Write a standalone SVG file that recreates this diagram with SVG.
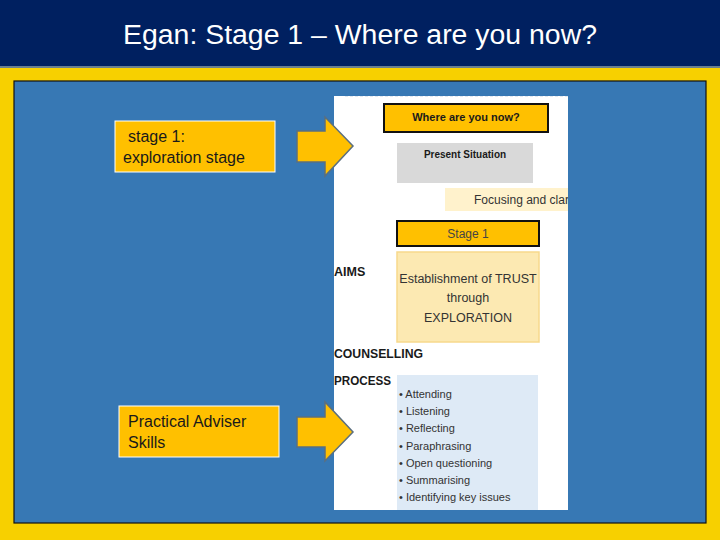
<svg xmlns="http://www.w3.org/2000/svg" width="720" height="540" viewBox="0 0 720 540">
  <defs>
    <clipPath id="figclip"><rect x="334" y="96" width="234" height="414"/></clipPath>
  </defs>
  <style>
    .t { font-family: "Liberation Sans", Arial, sans-serif; }
    .lbl { font-family: "Liberation Sans", Arial, sans-serif; font-size: 16px; fill: #1a1a1a; }
    .b { font-weight: bold; }
    .sm { font-family: "Liberation Sans", Arial, sans-serif; font-size: 11px; fill: #333; }
    .md { font-family: "Liberation Sans", Arial, sans-serif; font-size: 12.5px; fill: #333; }
    .hd { font-family: "Liberation Sans", Arial, sans-serif; font-size: 12.5px; font-weight: bold; fill: #1a1a1a; }
    .arrow { fill: #FFC000; stroke: #5B6F7F; stroke-width: 1.5; }
    .obox { fill: #FFC000; stroke: #FFFFFF; stroke-width: 1; }
  </style>
  <!-- background -->
  <rect x="0" y="0" width="720" height="540" fill="#F7D000"/>
  <rect x="0" y="0" width="720" height="66" fill="#002060"/>
  <rect x="0" y="66" width="720" height="2" fill="#6A7F8F"/>
  <text x="123" y="44" class="t" font-size="27" fill="#FFFFFF" textLength="474" lengthAdjust="spacingAndGlyphs">Egan: Stage 1 – Where are you now?</text>
  <rect x="14" y="81" width="692" height="442" fill="#3778B4" stroke="#111" stroke-width="1.2"/>

  <!-- embedded figure -->
  <g id="figure" clip-path="url(#figclip)">
    <rect x="334" y="96" width="234" height="414" fill="#FFFFFF"/>
    <line x1="345" y1="96" x2="568" y2="96" stroke="#C8D4E0" stroke-width="1" stroke-dasharray="3,2"/>
    <g id="where">
      <rect x="384" y="104" width="164" height="28" fill="#FFC000" stroke="#111" stroke-width="2"/>
      <text x="466" y="121" text-anchor="middle" class="sm b" style="fill:#1a1a1a">Where are you now?</text>
    </g>
    <g id="present">
      <rect x="397" y="143" width="136" height="40" fill="#D9D9D9"/>
      <text x="465" y="158" text-anchor="middle" class="sm b" style="font-size:10px;fill:#1a1a1a">Present Situation</text>
    </g>
    <g id="focusing">
      <rect x="445" y="188" width="123" height="23" fill="#FFF2CC"/>
      <text x="474" y="204" class="md" textLength="95" lengthAdjust="spacingAndGlyphs">Focusing and clar</text>
    </g>
    <g id="stage1box">
      <rect x="397" y="221" width="142" height="25" fill="#FFC000" stroke="#111" stroke-width="2"/>
      <text x="468" y="238" text-anchor="middle" class="sm" style="font-size:12px;fill:#444">Stage 1</text>
    </g>
    <text x="334" y="276" class="hd">AIMS</text>
    <g id="aims">
      <rect x="397" y="252" width="142" height="90" fill="#FCE9B2" stroke="#F7D98C" stroke-width="1.5"/>
      <text x="468" y="283" text-anchor="middle" class="md">Establishment of TRUST</text>
      <text x="468" y="302" text-anchor="middle" class="md">through</text>
      <text x="468" y="322" text-anchor="middle" class="md">EXPLORATION</text>
    </g>
    <text x="334" y="358" class="hd" textLength="89" lengthAdjust="spacingAndGlyphs">COUNSELLING</text>
    <text x="334" y="385" class="hd" textLength="57" lengthAdjust="spacingAndGlyphs">PROCESS</text>
    <g id="process">
      <rect x="397" y="375" width="141" height="135" fill="#DEEAF6"/>
      <text x="399" y="398" class="sm">• Attending</text>
      <text x="399" y="415" class="sm">• Listening</text>
      <text x="399" y="432" class="sm">• Reflecting</text>
      <text x="399" y="450" class="sm">• Paraphrasing</text>
      <text x="399" y="467" class="sm">• Open questioning</text>
      <text x="399" y="484" class="sm">• Summarising</text>
      <text x="399" y="501" class="sm">• Identifying key issues</text>
    </g>
  </g>

  <g id="stage1">
    <rect x="115" y="121" width="160" height="51" class="obox"/>
    <text x="128" y="142" class="lbl">stage 1:</text>
    <text x="123" y="163" class="lbl">exploration stage</text>
  </g>
  <g id="adviser">
    <rect x="119" y="406" width="160" height="51" class="obox"/>
    <text x="128" y="427" class="lbl">Practical Adviser</text>
    <text x="128" y="448" class="lbl">Skills</text>
  </g>

  <g id="connectors">
    <polygon class="arrow" points="297,131 325,131 325,117 353,146 325,176 325,162 297,162"/>
    <polygon class="arrow" points="297,417 325,417 325,402 353,432 325,461 325,447 297,447"/>
  </g>
</svg>
